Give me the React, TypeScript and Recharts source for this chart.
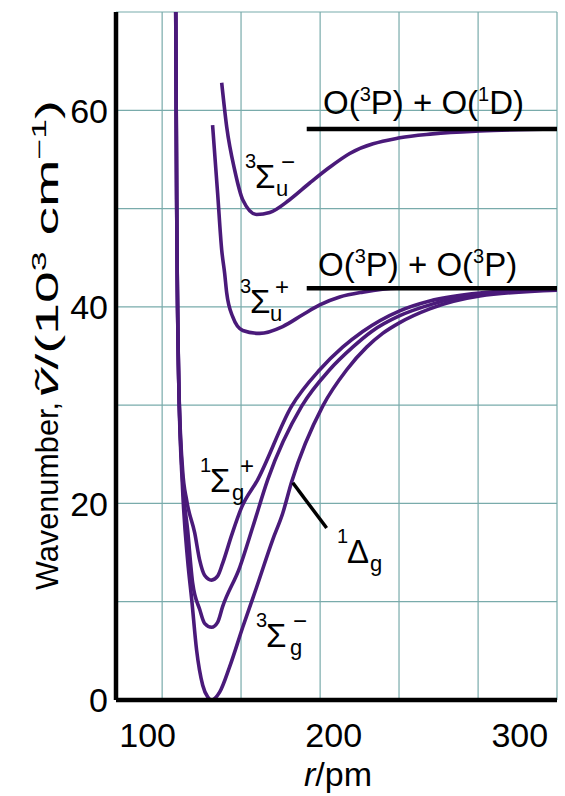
import React from 'react';
import { LineChart, Line, XAxis, YAxis, CartesianGrid, ReferenceLine } from 'recharts';

const FONT = '"Liberation Sans", Arial, Helvetica, sans-serif';
const PURPLE = '#4a1a7a';
const GRID = '#79abab';

// r in pm, wavenumber in 10^3 cm^-1
const groundR = [115.1, 115.6, 116.7, 118.8, 121.5, 123.7, 126.3, 129.6, 132.3, 134.4, 138.7, 144.1, 151.1, 158.6, 167.2, 172.6, 177.4, 194.1, 207.0, 217.7, 226.3, 235.5, 251.6, 278.5, 320];
const groundV = [70, 50.9, 32.6, 21.4, 14.2, 10.2, 5.1, 1.5, 0.3, 0, 0.8, 3.4, 7.4, 11.5, 16.3, 19.0, 22.2, 29.9, 33.6, 35.9, 37.3, 38.4, 39.8, 41.1, 41.7];

const deltaR = [115.1, 115.6, 116.7, 118.8, 121.5, 124.2, 128.0, 130.6, 134.4, 137.6, 140.3, 149.5, 156.5, 164.5, 182.8, 197.8, 210.2, 220.4, 235.5, 251.6, 278.5, 320];
const deltaV = [70, 50.9, 32.6, 22.4, 17.3, 11.9, 9.2, 7.8, 7.4, 7.9, 9.5, 13.5, 17.6, 22.4, 29.9, 33.6, 35.9, 37.5, 39.1, 40.2, 41.3, 41.8];

const sigmaGR = [115.1, 115.6, 116.7, 118.8, 121.0, 125.3, 128.0, 130.6, 134.4, 137.6, 140.3, 145.2, 150.5, 159.1, 177.4, 192.5, 204.8, 215.6, 235.5, 251.6, 278.5, 320];
const sigmaGV = [70, 50.9, 32.6, 23.4, 20.3, 17.0, 14.2, 12.7, 12.2, 12.6, 13.9, 16.8, 19.6, 22.4, 29.9, 33.6, 35.9, 37.5, 39.6, 40.6, 41.4, 41.8];

const sigmaUPlusR = [134.9, 137.6, 139.8, 141.4, 142.5, 145.7, 151.1, 160.2, 172.6, 183.3, 192.5, 203.2, 215.6, 233.9, 320];
const sigmaUPlusV = [58.5, 51.6, 45.8, 43.4, 41.4, 39.0, 37.6, 37.3, 38.0, 39.2, 40.2, 41.0, 41.5, 41.9, 41.9];

const sigmaUMinusR = [139.8, 142.5, 146.8, 151.1, 158.6, 165.6, 176.3, 187.1, 197.8, 208.6, 235.5, 253.2, 278.5, 320];
const sigmaUMinusV = [62.8, 58.3, 53.9, 50.9, 49.4, 49.6, 50.9, 52.6, 54.2, 55.6, 57.2, 57.6, 57.9, 58.1];

// dissociation limits
const limitR = [185.5, 320];
const limitPD = 58.1;
const limitPP = 41.9;

// leader line to the 1Δg label
const leaderR = [178.0, 196.2];
const leaderV = [22.1, 17.5];

const xTicks = [100, 200, 300];
const yTicks = [0, 10, 20, 30, 40, 50, 60, 70];
const yLabelled = [0, 20, 40, 60];
const xGrid = [107.8, 150.2, 192.7, 235.1, 277.6, 320];

const zip = (rs: number[], vs: number[]) => rs.map((r, i) => ({ r, v: vs[i] }));

const curves = [
  { key: 'ground', data: zip(groundR, groundV) },
  { key: 'delta', data: zip(deltaR, deltaV) },
  { key: 'sigmaG', data: zip(sigmaGR, sigmaGV) },
  { key: 'sigmaUPlus', data: zip(sigmaUPlusR, sigmaUPlusV) },
  { key: 'sigmaUMinus', data: zip(sigmaUMinusR, sigmaUMinusV) },
];

function renderYTick(props: any) {
  const { x, y, payload } = props;
  if (!yLabelled.includes(payload.value)) return <g />;
  return (
    <text x={x} y={y} dy="0.36em" textAnchor="end" fontSize={34} fontFamily={FONT} fill="#000">
      {payload.value}
    </text>
  );
}

function renderXTick(props: any) {
  const { x, y, payload } = props;
  return (
    <text x={x} y={y} dy="0.71em" textAnchor="middle" fontSize={34} fontFamily={FONT} fill="#000">
      {payload.value}
    </text>
  );
}

type TermProps = {
  x: number;
  y: number;
  pre: string;
  main: string;
  sub: string;
  sup?: string;
  subDx?: number;
  supDx?: number;
};

// term symbol like ³Σ⁻_u ; (x, y) is the left/baseline of the big letter
function Term({ x, y, pre, main, sub, sup, subDx = 21, supDx = 26 }: TermProps) {
  return (
    <g fontFamily={FONT} fill="#000">
      <text x={x - 10} y={y - 20} fontSize={20}>{pre}</text>
      <text x={x} y={y} fontSize={33}>{main}</text>
      <text x={x + subDx} y={y + 8} fontSize={22}>{sub}</text>
      {sup && <text x={x + supDx} y={y - 18} fontSize={24}>{sup}</text>}
    </g>
  );
}

function Overlay() {
  return (
    <svg width={565} height={796} style={{ position: 'absolute', left: 0, top: 0, pointerEvents: 'none' }}>
      <g fontFamily={FONT} fill="#000">
        <text x={323} y={114} fontSize={33}>
          O(<tspan fontSize={20} dy={-13}>3</tspan>
          <tspan dy={13}>P) + O(</tspan>
          <tspan fontSize={20} dy={-13}>1</tspan>
          <tspan dy={13}>D)</tspan>
        </text>
        <text x={318} y={276} fontSize={33}>
          O(<tspan fontSize={20} dy={-13}>3</tspan>
          <tspan dy={13}>P) + O(</tspan>
          <tspan fontSize={20} dy={-13}>3</tspan>
          <tspan dy={13}>P)</tspan>
        </text>

        <text x={338} y={786} fontSize={34} textAnchor="middle">
          <tspan fontStyle="italic">r</tspan>/pm
        </text>

        <g transform="translate(58, 796) rotate(-90)">
          <text x={206} y={0} fontSize={32} textLength={188} lengthAdjust="spacingAndGlyphs">
            Wavenumber,
          </text>
          <text x={398} y={0} fontSize={32} textLength={298} lengthAdjust="spacingAndGlyphs">
            <tspan fontStyle="italic">ṽ</tspan>/(10
            <tspan fontSize={20} dy={-12}>3</tspan>
            <tspan dy={12}> cm</tspan>
            <tspan fontSize={20} dy={-12}>−1</tspan>
            <tspan dy={12}>)</tspan>
          </text>
        </g>
      </g>

      <Term x={255} y={188} pre="3" main="Σ" sub="u" sup="−" />
      <Term x={250} y={313} pre="3" main="Σ" sub="u" sup="+" subDx={20} supDx={25} />
      <Term x={210} y={492} pre="1" main="Σ" sub="g" sup="+" subDx={22} supDx={30} />
      <Term x={347} y={563} pre="1" main="Δ" sub="g" subDx={23} />
      <Term x={266} y={647} pre="3" main="Σ" sub="g" sup="−" subDx={24} supDx={27} />
    </svg>
  );
}

export default function App() {
  return (
    <div style={{ position: 'absolute', left: 0, top: 0, width: 565, height: 796, background: '#fff' }}>
      <LineChart width={565} height={796} margin={{ top: 12, right: 8, bottom: 0, left: 0 }}>
        <CartesianGrid vertical={false} stroke={GRID} strokeWidth={1.2} />
        {xGrid.map((g) => (
          <ReferenceLine key={g} x={g} stroke={GRID} strokeWidth={1.2} />
        ))}
        <XAxis
          dataKey="r"
          type="number"
          domain={[83, 320]}
          ticks={xTicks}
          allowDataOverflow
          height={96}
          tickSize={0}
          tickMargin={23}
          tickLine={false}
          axisLine={{ stroke: '#000', strokeWidth: 4.5 }}
          tick={renderXTick}
        />
        <YAxis
          dataKey="v"
          type="number"
          domain={[0, 70]}
          ticks={yTicks}
          allowDataOverflow
          width={116}
          tickSize={0}
          tickMargin={8}
          tickLine={false}
          axisLine={{ stroke: '#000', strokeWidth: 4.5 }}
          tick={renderYTick}
        />
        {curves.map((c) => (
          <Line
            key={c.key}
            data={c.data}
            dataKey="v"
            type="monotone"
            stroke={PURPLE}
            strokeWidth={3.6}
            dot={false}
            isAnimationActive={false}
          />
        ))}
        <Line data={zip(limitR, [limitPD, limitPD])} dataKey="v" type="linear" stroke="#000" strokeWidth={4.5} dot={false} isAnimationActive={false} />
        <Line data={zip(limitR, [limitPP, limitPP])} dataKey="v" type="linear" stroke="#000" strokeWidth={4.5} dot={false} isAnimationActive={false} />
        <Line data={zip(leaderR, leaderV)} dataKey="v" type="linear" stroke="#000" strokeWidth={3.5} dot={false} isAnimationActive={false} />
      </LineChart>
      <Overlay />
    </div>
  );
}
